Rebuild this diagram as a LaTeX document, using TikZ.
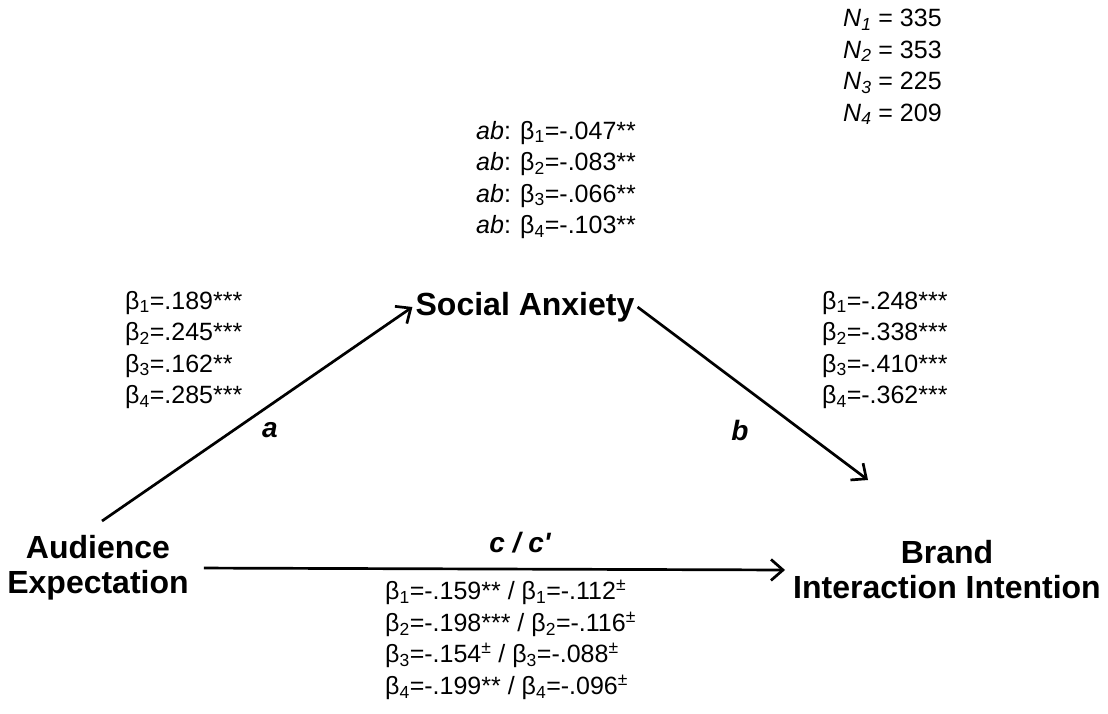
\documentclass[tikz,border=0pt]{standalone}
\usepackage{fontspec}
\setmainfont{Liberation Sans}
\usetikzlibrary{arrows.meta}

\newcommand{\bet}[1]{β\textsubscript{#1}}
\newcommand{\sig}[1]{\textsuperscript{#1}}

\begin{document}
\begin{tikzpicture}[x=1pt, y=-1pt,
    varbox/.style={font=\fontsize{32}{35}\selectfont\bfseries, align=center, inner sep=3pt},
    stats/.style={font=\fontsize{25}{31.5}\selectfont, align=left, inner sep=0pt},
    pathlbl/.style={font=\fontsize{28}{32}\selectfont\bfseries\itshape},
    effect/.style={-{Straight Barb[length=12pt, width=21pt]}, line width=2.7pt}]
  \useasboundingbox (0,0) rectangle (1108,713);

  % variables
  \node[varbox] (ae) at (98,568) {Audience\\Expectation};
  \node[varbox] (sa) at (525,307) {Social Anxiety};
  \node[varbox] (bii) at (947,570) {Brand\\Interaction Intention};

  % paths a, b and c / c'
  \coordinate (aStart) at (102,521);
  \coordinate (bEnd) at (868,480);
  \draw[effect] (aStart) -- (sa.west);
  \draw[effect] (sa.east) -- (bEnd);
  \draw[effect, shorten <=12pt, shorten >=5pt] (ae.east) -- (bii.west);

  \node[pathlbl] (la) at (270,430) {a};
  \node[pathlbl] (lb) at (740,430) {b};
  \node[pathlbl] (lc) at (520,543) {c / c\textquotesingle};

  % sample sizes
  \node[stats, anchor=west] (nblock) at (843,67)
    {\textit{N}\textsubscript{\textit{1}} = 335\\
     \textit{N}\textsubscript{\textit{2}} = 353\\
     \textit{N}\textsubscript{\textit{3}} = 225\\
     \textit{N}\textsubscript{\textit{4}} = 209};

  % indirect effect ab
  \node[stats, anchor=west] (abblock) at (476,180)
    {\textit{ab}: \bet{1}=-.047**\\
     \textit{ab}: \bet{2}=-.083**\\
     \textit{ab}: \bet{3}=-.066**\\
     \textit{ab}: \bet{4}=-.103**};

  % coefficients of a
  \node[stats, anchor=west] (ablock) at (125,350)
    {\bet{1}=.189***\\
     \bet{2}=.245***\\
     \bet{3}=.162**\\
     \bet{4}=.285***};

  % coefficients of b
  \node[stats, anchor=west] (bblock) at (822,350)
    {\bet{1}=-.248***\\
     \bet{2}=-.338***\\
     \bet{3}=-.410***\\
     \bet{4}=-.362***};

  % coefficients of c / c'
  \node[stats, anchor=west] (cblock) at (385,640)
    {\bet{1}=-.159** / \bet{1}=-.112\sig{±}\\
     \bet{2}=-.198*** / \bet{2}=-.116\sig{±}\\
     \bet{3}=-.154\sig{±} / \bet{3}=-.088\sig{±}\\
     \bet{4}=-.199** / \bet{4}=-.096\sig{±}};
\end{tikzpicture}
\end{document}
